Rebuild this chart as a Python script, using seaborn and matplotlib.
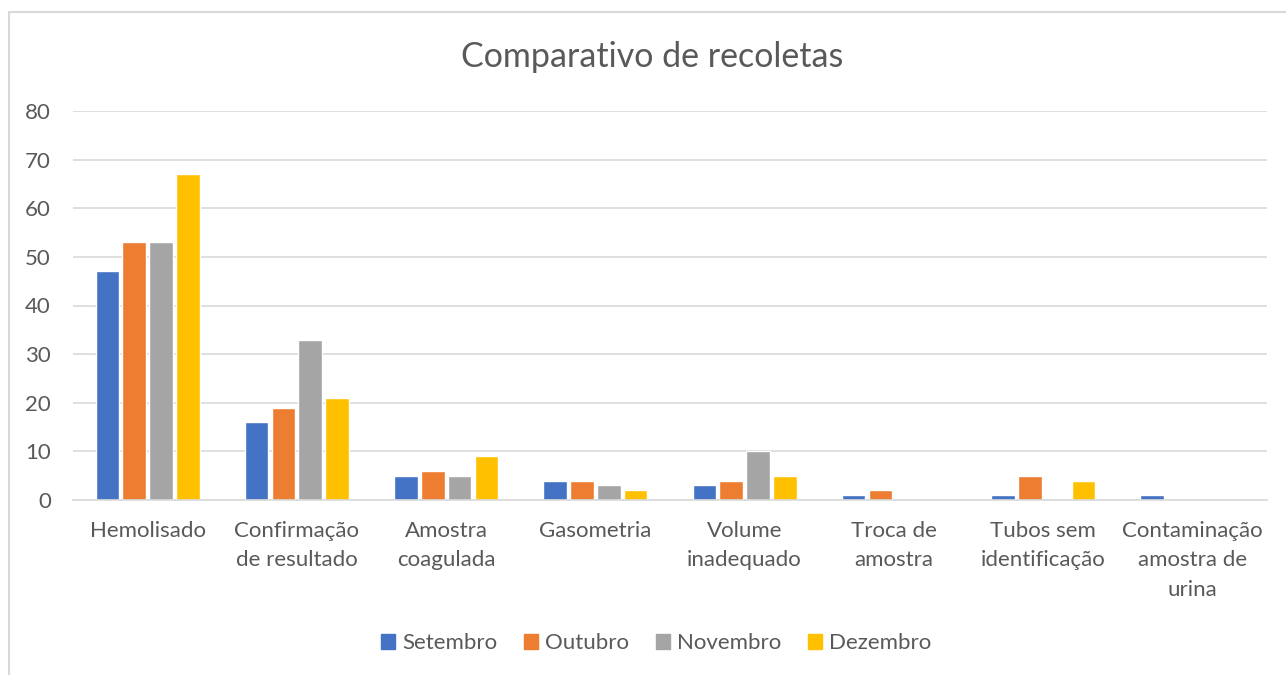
import matplotlib
matplotlib.use("Agg")
import matplotlib.pyplot as plt
import pandas as pd
import seaborn as sns
from matplotlib.patches import Rectangle

# data
categorias = ["Hemolisado", "Confirmação\nde resultado", "Amostra\ncoagulada",
              "Gasometria", "Volume\ninadequado", "Troca de\namostra",
              "Tubos sem\nidentificação", "Contaminação\namostra de\nurina"]
meses = ["Setembro", "Outubro", "Novembro", "Dezembro"]
setembro = [47, 16, 5, 4, 3, 1, 1, 1]
outubro = [53, 19, 6, 4, 4, 2, 5, 0]
novembro = [53, 33, 5, 3, 10, 0, 0, 0]
dezembro = [67, 21, 9, 2, 5, 0, 4, 0]
cores = ["#4472C4", "#ED7D31", "#A5A5A5", "#FFC000"]

df = pd.DataFrame({"categoria": categorias, "Setembro": setembro,
                   "Outubro": outubro, "Novembro": novembro,
                   "Dezembro": dezembro})
df = df.melt(id_vars="categoria", var_name="mes", value_name="valor")

sns.set_style("white")
plt.rcParams["font.family"] = ["Lato", "DejaVu Sans"]
txt = "#595959"

fig = plt.figure(figsize=(12.86, 6.75), dpi=100)
ax = fig.add_axes([73 / 1286, 1 - 500 / 675, 1194 / 1286, 389 / 675])

sns.barplot(data=df, x="categoria", y="valor", hue="mes", hue_order=meses,
            palette=cores, width=0.72, gap=0.12, saturation=1, ax=ax,
            legend=False)

ax.set_ylim(0, 80)
ax.set_yticks(range(0, 81, 10))
ax.yaxis.grid(True, color="#D9D9D9", linewidth=1.2)
ax.set_axisbelow(True)
for s in ["top", "right", "left"]:
    ax.spines[s].set_visible(False)
ax.spines["bottom"].set_color("#D9D9D9")
ax.spines["bottom"].set_linewidth(1.2)
ax.set_xlabel("")
ax.set_ylabel("")
ax.tick_params(axis="both", length=0, labelsize=16, labelcolor=txt)
ax.tick_params(axis="y", pad=16)
ax.tick_params(axis="x", pad=15)
for lbl in ax.get_xticklabels():
    lbl.set_linespacing(1.6)

fig.text(652 / 1286, 1 - 57 / 675, "Comparativo de recoletas", ha="center",
         va="center", fontsize=24.5, color=txt)

handles = [Rectangle((0, 0), 1, 1, color=c) for c in cores]
fig.legend(handles, meses, loc="center", bbox_to_anchor=(656 / 1286, 1 - 643 / 675),
           ncol=4, frameon=False, fontsize=16, labelcolor=txt,
           handlelength=0.65, handleheight=0.65, handletextpad=0.3,
           columnspacing=1.2)

fig.patches.append(Rectangle((9 / 1286, -0.01), 1.2, 1 - 12 / 675 + 0.01,
                             transform=fig.transFigure, fill=False,
                             edgecolor="#D9D9D9", linewidth=1.5))

fig.savefig("out.png", dpi=100, facecolor="white")
